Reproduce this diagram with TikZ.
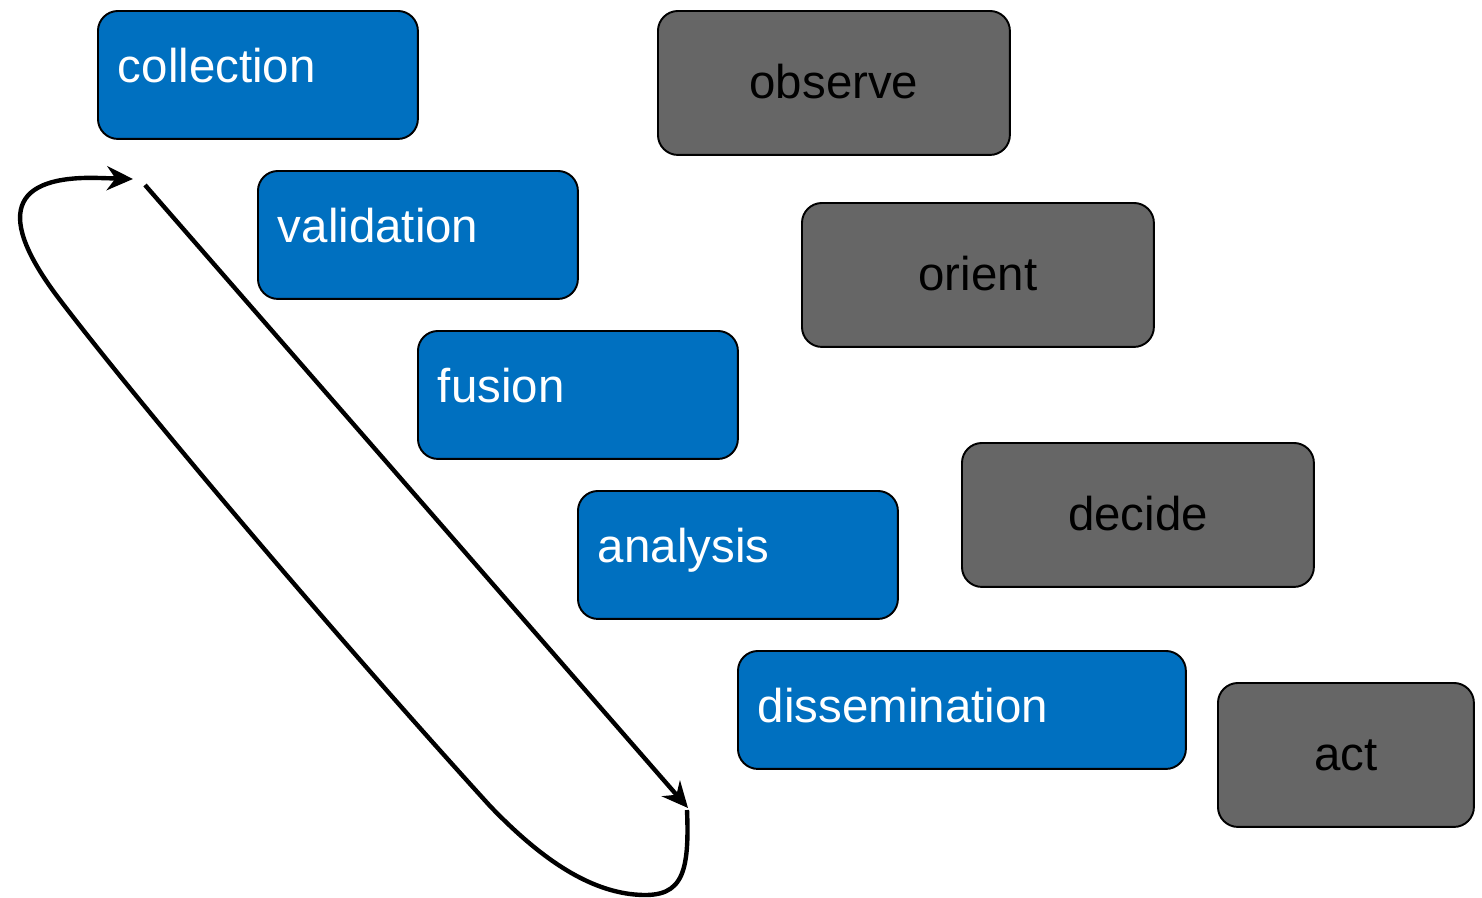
\documentclass[tikz,border=0pt]{standalone}
\usepackage{fontspec}
\setmainfont{Liberation Sans}
\usepackage{xcolor}
\usepackage{tikz}
\usetikzlibrary{arrows.meta}
\definecolor{stageblue}{HTML}{0070C0}
\definecolor{oodagray}{HTML}{666666}

\begin{document}
\begin{tikzpicture}[x=0.02cm,y=-0.02cm,>={Stealth[length=5.2mm,width=4.8mm]}]
\tikzstyle{stage}=[rectangle,draw=black,line width=1.1pt,rounded corners=0.4cm,fill=stageblue,text=white,anchor=north west,inner xsep=0.4cm,inner ysep=0pt,text width=5.6cm,align=left,text height=1.44cm,text depth=1.12cm,font=\fontsize{27}{32}\selectfont]
\tikzstyle{ooda}=[rectangle,draw=black,line width=1.1pt,rounded corners=0.4cm,fill=oodagray,text=black,anchor=north west,inner xsep=0pt,inner ysep=0pt,minimum width=7.04cm,text height=1.76cm,text depth=1.12cm,font=\fontsize{27}{32}\selectfont]
\tikzstyle{loop}=[->,line width=2.5pt]
\useasboundingbox (0,0) rectangle (1482,897);
\node[stage] (collection) at (97,10) {collection};
\node[stage] (validation) at (257,170) {validation};
\node[stage] (fusion) at (417,330) {fusion};
\node[stage] (analysis) at (577,490) {analysis};
\node[stage,text width=8.16cm,text depth=0.92cm] (dissemination) at (737,650) {dissemination};
\node[ooda] (observe) at (657,10) {observe};
\node[ooda] (orient) at (801,202) {orient};
\node[ooda] (decide) at (961,442) {decide};
\node[ooda,minimum width=5.12cm] (act) at (1217,682) {act};
\coordinate (loopin) at (145,185);
\coordinate (loopout) at (688,808);
\coordinate (loopturn) at (687,810);
\coordinate (loopback) at (133,179);
\draw[loop] (loopin) -- (loopout);
\draw[loop] (loopturn) .. controls (690,880) and (680,900) .. (630,894)
  .. controls (585,888) and (540,858) .. (490,806)
  .. controls (330,630) and (140,405) .. (60,300)
  .. controls (-5,215) and (10,175) .. (100,178) -- (loopback);
\end{tikzpicture}
\end{document}
